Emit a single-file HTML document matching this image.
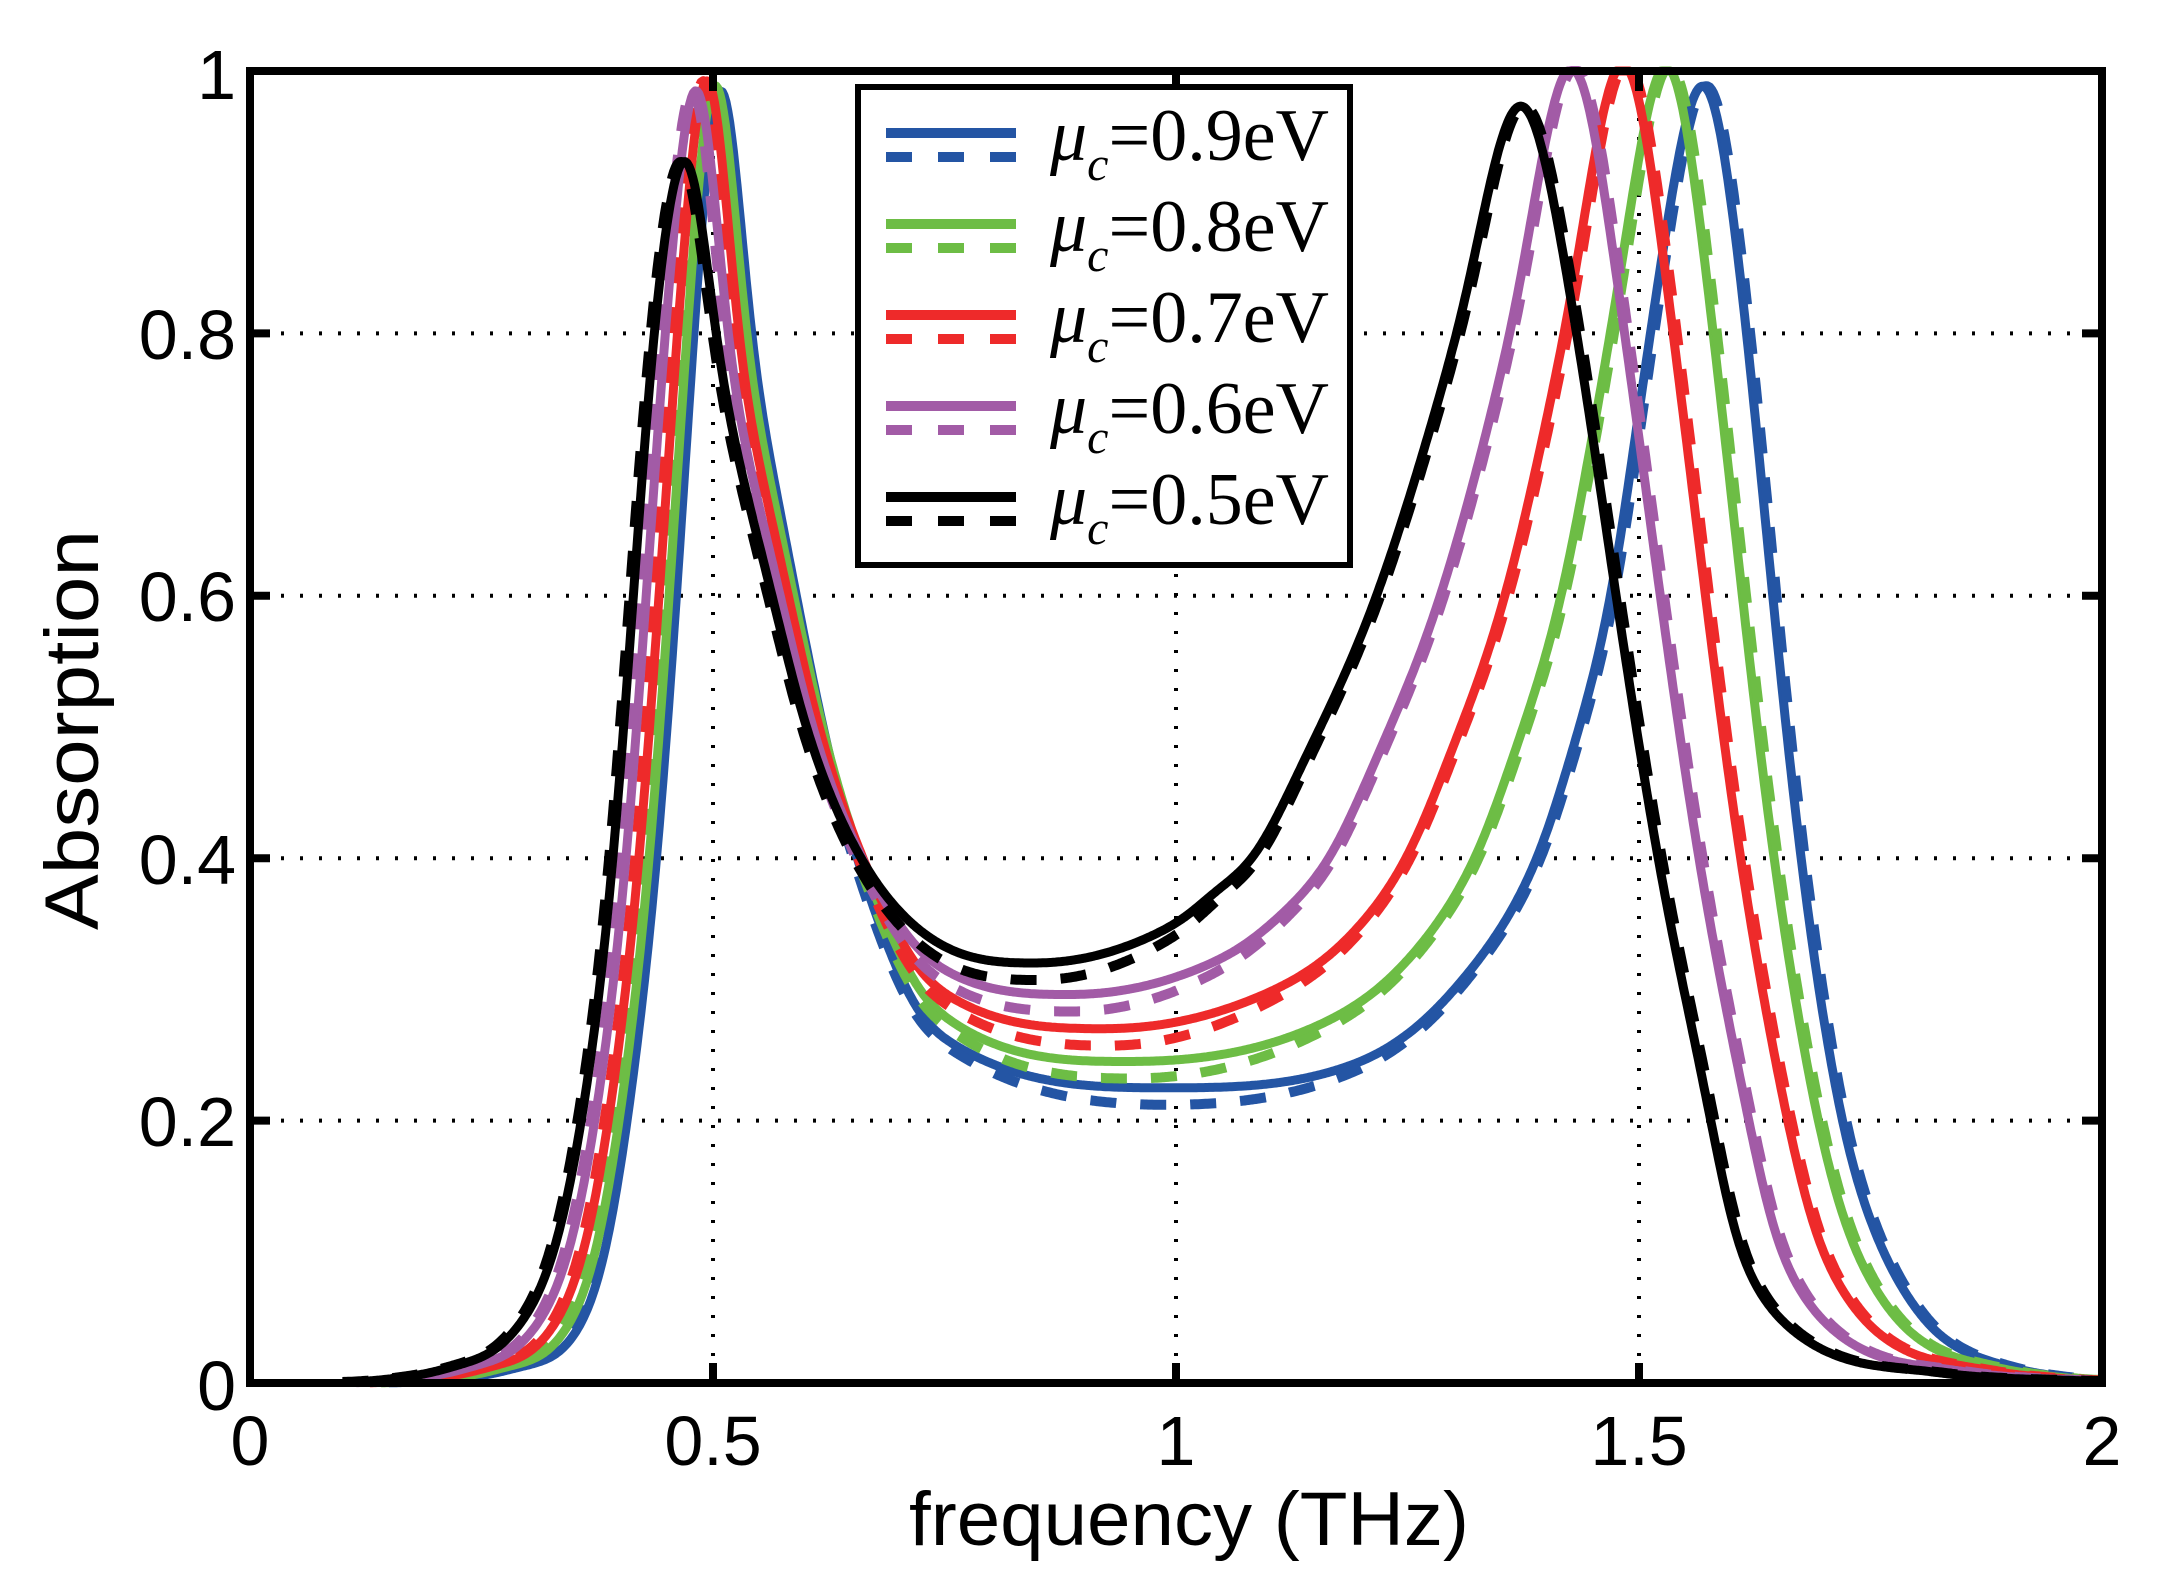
<!DOCTYPE html>
<html><head><meta charset="utf-8"><style>
html,body{margin:0;padding:0;background:#fff;}
svg{display:block;}
</style></head><body>
<svg id="s" width="2170" height="1585" viewBox="0 0 2170 1585" xmlns="http://www.w3.org/2000/svg">
<rect width="2170" height="1585" fill="#fff"/>
<g id="grid" stroke="#000" stroke-width="4" stroke-dasharray="3 16" fill="none">
<line x1="262" y1="1120.6" x2="2095" y2="1120.6"/>
<line x1="262" y1="858.2" x2="2095" y2="858.2"/>
<line x1="262" y1="595.8" x2="2095" y2="595.8"/>
<line x1="262" y1="333.4" x2="2095" y2="333.4"/>
<line x1="713" y1="80" x2="713" y2="1375"/>
<line x1="1176" y1="80" x2="1176" y2="1375"/>
<line x1="1639" y1="80" x2="1639" y2="1375"/>
</g>
<g id="curves" fill="none" stroke-linejoin="round"></g>
<g stroke="#000" stroke-width="8" fill="none">
<rect x="250" y="71" width="1852" height="1312"/>
<path d="M250 1120.6h20M250 858.2h20M250 595.8h20M250 333.4h20M2102 1120.6h-20M2102 858.2h-20M2102 595.8h-20M2102 333.4h-20M713 1383v-20M1176 1383v-20M1639 1383v-20M713 71v20M1176 71v20M1639 71v20"/>
</g>
<g font-family="'Liberation Sans',sans-serif" font-size="70" fill="#000">
<text x="236" y="99" text-anchor="end">1</text>
<text x="236" y="359" text-anchor="end">0.8</text>
<text x="236" y="621" text-anchor="end">0.6</text>
<text x="236" y="884" text-anchor="end">0.4</text>
<text x="236" y="1146" text-anchor="end">0.2</text>
<text x="236" y="1410" text-anchor="end">0</text>
<text x="250" y="1465" text-anchor="middle">0</text>
<text x="713" y="1465" text-anchor="middle">0.5</text>
<text x="1176" y="1465" text-anchor="middle">1</text>
<text x="1639" y="1465" text-anchor="middle">1.5</text>
<text x="2102" y="1465" text-anchor="middle">2</text>
<text x="909" y="1545" font-size="76" textLength="560" lengthAdjust="spacingAndGlyphs">frequency (THz)</text>
<text transform="translate(98,930) rotate(-90)" font-size="76" textLength="400" lengthAdjust="spacingAndGlyphs">Absorption</text>
</g>
<rect x="858" y="87" width="492" height="478" fill="#fff" stroke="#000" stroke-width="6"/>
<g id="leg" font-family="'Liberation Serif',serif" font-size="74" fill="#000"></g>
</svg>
<script>
(function(){
var NS="http://www.w3.org/2000/svg";
function px(f){return 250+926*f;}
function py(a){return 1383-1312*a;}
function mono(xs,ys){
 var n=xs.length,d=[],m=[];
 for(var i=0;i<n-1;i++)d.push((ys[i+1]-ys[i])/(xs[i+1]-xs[i]));
 m[0]=d[0];m[n-1]=d[n-2];
 for(i=1;i<n-1;i++){ if(d[i-1]*d[i]<=0)m[i]=0; else {m[i]=(d[i-1]+d[i])/2;}}
 for(i=0;i<n-1;i++){ if(d[i]==0){m[i]=0;m[i+1]=0;continue;}
  var a=m[i]/d[i],b=m[i+1]/d[i],h=a*a+b*b; if(h>9){var t=3/Math.sqrt(h);m[i]=t*a*d[i];m[i+1]=t*b*d[i];}}
 return function(x){
  if(x<=xs[0])return ys[0]; if(x>=xs[n-1])return ys[n-1];
  var k=0;while(x>xs[k+1])k++;
  var hh=xs[k+1]-xs[k],t=(x-xs[k])/hh,t2=t*t,t3=t2*t;
  return (2*t3-3*t2+1)*ys[k]+(t3-2*t2+t)*hh*m[k]+(-2*t3+3*t2)*ys[k+1]+(t3-t2)*hh*m[k+1];
 };
}
var L=[[-0.375,0,-0.36,0],[-0.325,0.003,-0.29,0.003],[-0.263,0.011,-0.226,0.011],[-0.191,0.037,-0.157,0.037],[-0.145,0.1,-0.124,0.1],[-0.116,0.2,-0.102,0.2],[-0.081,0.4,-0.069,0.4],[-0.061,0.6,-0.049,0.6],[-0.041,0.8,-0.031,0.8]];
var LR=[[0.025,0.8,0.027,0.8],[0.05,0.711,0.05,0.711],[0.089,0.6,0.08,0.6],[0.126,0.497,0.109,0.497],[0.184,0.4,0.145,0.4]];
var RL=[[-0.33,0.375,-0.27,0.3],[-0.289,0.4,-0.18,0.4],[-0.239,0.468,-0.148,0.47],[-0.156,0.6,-0.10,0.6],[-0.069,0.8,-0.059,0.8]];
var RR=[[0.06,0.8,0.046,0.8],[0.102,0.6,0.073,0.6],[0.147,0.4,0.103,0.4],[0.205,0.2,0.147,0.2],[0.228,0.115,0.18,0.12],[0.251,0.075,0.22,0.064],[0.31,0.031,0.255,0.035],[0.45,0.008,0.33,0.012]];
var cs=[
 {c:"#2455a4",t:1,p1:0.51,h1:1.06,p2:1.571,h2:0.985,mn:[0.99,0.225]},
 {c:"#6dbd45",t:0.75,p1:0.505,h1:1.06,p2:1.531,h2:1.0,mn:[0.95,0.245]},
 {c:"#ee2a2a",t:0.5,p1:0.497,h1:1.06,p2:1.484,h2:1.0,mn:[0.927,0.27]},
 {c:"#a25ba6",t:0.25,p1:0.486,h1:1.045,p2:1.428,h2:0.995,mn:[0.888,0.296]},
 {c:"#000000",t:0,p1:0.475,h1:0.967,p2:1.373,h2:0.963,mn:[0.85,0.32]}
];
var g=document.getElementById("curves");
function lerp(a,b,t){return a+(b-a)*t;}
var R=21,SG=7,K=[];for(var j=-R;j<=R;j++){K.push(Math.exp(-j*j/(2*SG*SG)));}
function smooth(arr){
 var out=[],n=arr.length;
 for(var i=0;i<n;i++){var s=0,ws=0;for(var j=-R;j<=R;j++){var q=i+j;if(q<0||q>=n)continue;s+=arr[q]*K[j+R];ws+=K[j+R];}out.push(s/ws);}
 return out;
}
cs.forEach(function(C){
 var t=C.t,X=[],Y=[];
 function add(x,y){if(X.length&&x<=X[X.length-1]+0.003)return;X.push(x);Y.push(y);}
 L.forEach(function(p){add(C.p1+lerp(p[0],p[2],t),lerp(p[1],p[3],t));});
 add(C.p1,C.h1);
 LR.forEach(function(p){add(C.p1+lerp(p[0],p[2],t),lerp(p[1],p[3],t));});
 add(lerp(0.738,0.74,t),lerp(0.337,0.267,t));
 add(C.mn[0],C.mn[1]);
 add(lerp(1.0,1.2,t),lerp(0.35,0.245,t));
 RL.forEach(function(p){add(C.p2+lerp(p[0],p[2],t),lerp(p[1],p[3],t));});
 add(C.p2,C.h2*1.025);
 RR.forEach(function(p){add(C.p2+lerp(p[0],p[2],t),lerp(p[1],p[3],t));});
 add(2.0,0.001);
 var F=mono(X,Y);
 function path(dash){
  var fs=[],as=[],f0=X[0];
  for(var f=f0;f<=2.0001;f+=0.002){
   var a;
   if(dash){
    var sh=(f<C.mn[0]?-0.004:0.004);
    a=F(f-sh);
    var w=Math.exp(-Math.pow((f-C.mn[0])/0.2,2));
    a-=0.013*w;
    if(a<0)a=0;
   } else a=F(f);
   fs.push(f);as.push(a);
  }
  as=smooth(as);
  var d="";
  for(var i=0;i<fs.length;i++){var v=Math.min(as[i],1.0);d+=(d?"L":"M")+px(fs[i]).toFixed(1)+" "+py(v).toFixed(1);}
  return d;
 }
 var s=document.createElementNS(NS,"path");
 s.setAttribute("d",path(false));s.setAttribute("stroke",C.c);s.setAttribute("stroke-width","9");
 g.appendChild(s);
 var q=document.createElementNS(NS,"path");
 q.setAttribute("d",path(true));q.setAttribute("stroke",C.c);q.setAttribute("stroke-width","10");q.setAttribute("stroke-dasharray","26 24");
 g.appendChild(q);
});
var lg=document.getElementById("leg");
var items=[["#2455a4","0.9"],["#6dbd45","0.8"],["#ee2a2a","0.7"],["#a25ba6","0.6"],["#000000","0.5"]];
items.forEach(function(it,k){
 var y=133+91*k;
 var l1=document.createElementNS(NS,"line");
 l1.setAttribute("x1",886);l1.setAttribute("x2",1016);l1.setAttribute("y1",y);l1.setAttribute("y2",y);
 l1.setAttribute("stroke",it[0]);l1.setAttribute("stroke-width",10);lg.appendChild(l1);
 var l2=document.createElementNS(NS,"line");
 l2.setAttribute("x1",886);l2.setAttribute("x2",1016);l2.setAttribute("y1",y+24);l2.setAttribute("y2",y+24);
 l2.setAttribute("stroke",it[0]);l2.setAttribute("stroke-width",10);l2.setAttribute("stroke-dasharray","26 26");lg.appendChild(l2);
 var tx=document.createElementNS(NS,"text");
 tx.setAttribute("x",1050);tx.setAttribute("y",160+91*k);
 tx.innerHTML='<tspan font-style="italic">\u03bc</tspan><tspan font-style="italic" font-size="48" dy="20">c</tspan><tspan dy="-20">=' + it[1] + 'eV</tspan>';
 lg.appendChild(tx);
});
})();
</script>
</body></html>
